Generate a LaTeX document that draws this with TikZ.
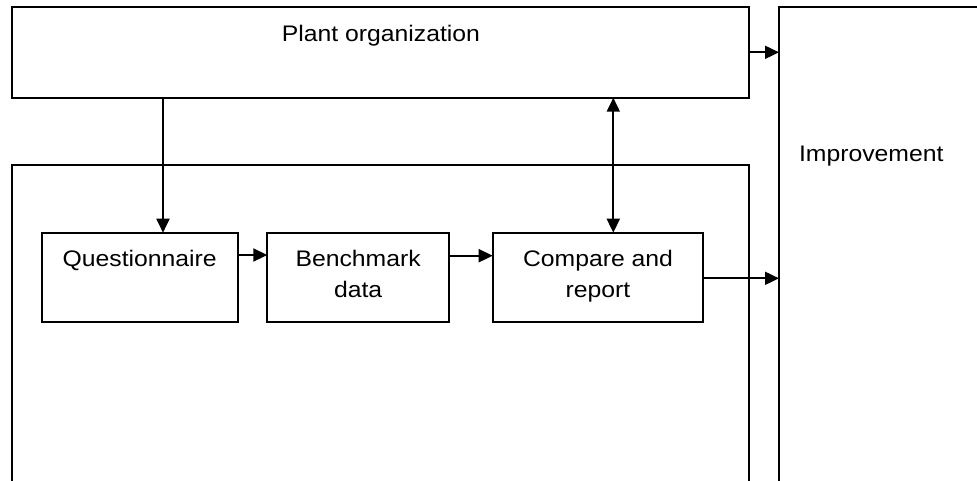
\documentclass[tikz,border=0pt]{standalone}
\usepackage{fontspec}
\setmainfont{Liberation Sans}[FakeStretch=1.1]
\usetikzlibrary{arrows.meta}
\begin{document}
\begin{tikzpicture}[x=1pt,y=-1pt,
  box/.style={draw=black,line width=2pt,fill=none,outer sep=0pt,inner sep=0pt},
  lbl/.style={inner sep=0pt,outer sep=0pt,font=\fontsize{22.5}{31}\selectfont,align=center},
  arr/.style={line width=1.9pt,-{Triangle[length=14pt,width=13pt]}},
  darr/.style={line width=1.9pt,{Triangle[length=14pt,width=13pt]}-{Triangle[length=14pt,width=13pt]}}]
\useasboundingbox (0,0) rectangle (977,480);
\clip (0,0) rectangle (977,480);
\fill[white] (0,0) rectangle (977,480);
% boxes
\node[box,minimum width=737.6pt,minimum height=90.4pt] (plant) at (380.5,52.5) {};
\node[box,minimum width=221pt,minimum height=492.7pt] (imp) at (889.5,253.65) {};
\node[box,minimum width=737.6pt,minimum height=335pt] (big) at (380.5,332.5) {};
\node[box,minimum width=196pt,minimum height=89.6pt] (q) at (139.7,277.5) {};
\node[box,minimum width=181.7pt,minimum height=89.6pt] (b) at (358.15,277.5) {};
\node[box,minimum width=210.6pt,minimum height=89.6pt] (c) at (598,277.5) {};
% texts
\node[lbl,anchor=base] (tplant) at (380.9,41) {Plant organization};
\node[lbl,anchor=base west] (timp) at (799,161.7) {Improvement};
\node[lbl,anchor=base] (tq) at (139.7,266.7) {Questionnaire};
\node[lbl,anchor=base] (tb) at (358.15,297.7) {Benchmark\\data};
\node[lbl,anchor=base] (tc) at (598,297.7) {Compare and\\report};
% connectors
\draw[arr] (plant.south -| 163,0) -- (q.north -| 163,0);
\draw[darr] (plant.south -| 613.3,0) -- (c.north -| 613.3,0);
\draw[arr] (plant.east |- 0,52.3) -- (imp.west |- 0,52.3);
\draw[arr] (q.east |- 0,255) -- (b.west |- 0,255);
\draw[arr] (b.east |- 0,255.7) -- (c.west |- 0,255.7);
\draw[arr] (c.east |- 0,278.3) -- (imp.west |- 0,278.3);
\end{tikzpicture}
\end{document}
